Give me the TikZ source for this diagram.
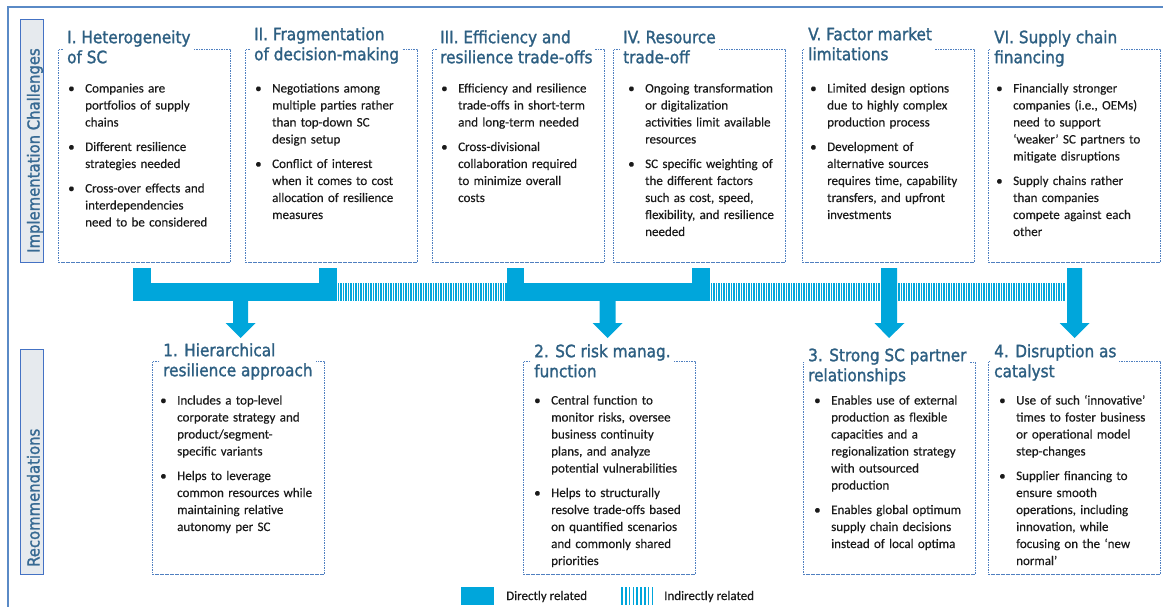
\documentclass[tikz,border=0pt]{standalone}
\usepackage{fontspec}
\setmainfont[FakeBold=0.35]{Carlito}
\newfontfamily\titlefont[FakeBold=1.4]{DejaVu Sans Condensed}
\usetikzlibrary{arrows.meta}
\definecolor{titleblue}{HTML}{2D5F82}
\definecolor{sideblue}{HTML}{376A93}
\definecolor{bandblue}{HTML}{00A6DB}
\definecolor{dashblue}{HTML}{4F7FC0}
\definecolor{frameblue}{HTML}{5A8AC6}
\definecolor{sideborder}{HTML}{4472C4}
\definecolor{sidefill}{HTML}{E6EAEE}
\definecolor{bodytext}{HTML}{1A1A1A}
\newcommand\bitems{\setlength\parskip{7.5pt}}
\newcommand\bitem[1]{\noindent\hangindent=17pt\hangafter=1\makebox[17pt][l]{\textbullet}#1\par}
\begin{document}
\begin{tikzpicture}[x=1pt,y=-1pt,
  dbox/.style={draw=dashblue, line width=0.8pt, dash pattern=on 1.6pt off 0.9pt,
    anchor=north west, inner sep=0pt, minimum width=172pt, minimum height=213pt},
  ttl/.style={anchor=north west, fill=white, inner xsep=3pt, inner ysep=1pt,
    align=left, font=\titlefont\fontsize{17}{20}\selectfont, text=titleblue},
  body/.style={anchor=base west, inner sep=0pt, text width=175pt,
    font=\fontsize{13}{17}\selectfont, text=bodytext},
  sidebox/.style={draw=sideborder, line width=1.2pt, fill=sidefill, anchor=north west,
    inner sep=0pt, minimum width=23pt},
  sidetext/.style={rotate=90, anchor=base west, inner sep=0pt,
    font=\titlefont\fontsize{16.5}{19}\selectfont, text=sideblue},
  direct/.style={fill=bandblue},
  hatch/.style={draw=bandblue, line width=1.5pt},
  legtext/.style={anchor=base west, inner sep=0pt, font=\fontsize{13}{16}\selectfont, text=bodytext}
]
\useasboundingbox (0,0) rectangle (1163,607);
% outer frame
\draw[frameblue, line width=2pt] (8,608) -- (8,7) -- (1164,7);
% side labels
\node[sidebox, minimum height=243pt] (sideA) at (20,19) {};
\node[sidetext] (sideAt) at (39.5,253) {Implementation Challenges};
\node[sidebox, minimum height=225pt] (sideB) at (19.5,349) {};
\node[sidetext] (sideBt) at (39.5,567) {Recommendations};

% top boxes
\node[dbox] (bI) at (58,49) {};
\node[dbox] (bII) at (245,49) {};
\node[dbox] (bIII) at (432,49) {};
\node[dbox] (bIV) at (613,49) {};
\node[dbox] (bV) at (802,49) {};
\node[dbox] (bVI) at (988,49) {};
% bottom boxes
\node[dbox] (r1) at (152,361) {};
\node[dbox] (r2) at (523,361) {};
\node[dbox, minimum height=212pt] (r3) at (803,362) {};
\node[dbox] (r4) at (988,361) {};

% titles
\node[ttl] (tI) at (64,28) {\rule{0pt}{14pt}I. Heterogeneity\\of SC};
\node[ttl] (tII) at (251,25) {\rule{0pt}{14pt}II. Fragmentation\\of decision-making};
\node[ttl] (tIII) at (437,28) {\rule{0pt}{14pt}III. Efficiency and\\resilience trade-offs};
\node[ttl] (tIV) at (620,28) {\rule{0pt}{14pt}IV. Resource\\trade-off};
\node[ttl] (tV) at (805,25) {\rule{0pt}{14pt}V. Factor market\\limitations};
\node[ttl] (tVI) at (991,28) {\rule{0pt}{14pt}VI. Supply chain\\financing};
\node[ttl] (t1) at (160,341) {\rule{0pt}{14pt}1. Hierarchical\\resilience approach};
\node[ttl] (t2) at (531,342) {\rule{0pt}{14pt}2. SC risk manag.\\function};
\node[ttl] (t3) at (805,346) {\rule{0pt}{14pt}3. Strong SC partner\\relationships};
\node[ttl] (t4) at (991,342) {\rule{0pt}{14pt}4. Disruption as\\catalyst};

% body texts
\node[body] (xI) at (68,92.5) {\bitems
\bitem{Companies are\newline portfolios of supply\newline chains}
\bitem{Different resilience\newline strategies needed}
\bitem{Cross-over effects and\newline interdependencies\newline need to be considered}};
\node[body] (xII) at (255,92.5) {\bitems
\bitem{Negotiations among\newline multiple parties rather\newline than top-down SC\newline design setup}
\bitem{Conflict of interest\newline when it comes to cost\newline allocation of resilience\newline measures}};
\node[body] (xIII) at (441,92.5) {\bitems
\bitem{Efficiency and resilience\newline trade-offs in short-term\newline and long-term needed}
\bitem{Cross-divisional\newline collaboration required\newline to minimize overall\newline costs}};
\node[body] (xIV) at (628,92.5) {\bitems
\bitem{Ongoing transformation\newline or digitalization\newline activities limit available\newline resources}
\bitem{SC specific weighting of\newline the different factors\newline such as cost, speed,\newline flexibility, and resilience\newline needed}};
\node[body] (xV) at (810,92.5) {\bitems
\bitem{Limited design options\newline due to highly complex\newline production process}
\bitem{Development of\newline alternative sources\newline requires time, capability\newline transfers, and upfront\newline investments}};
\node[body] (xVI) at (996,92.5) {\bitems
\bitem{Financially stronger\newline companies (i.e., OEMs)\newline need to support\newline ‘weaker’ SC partners to\newline mitigate disruptions}
\bitem{Supply chains rather\newline than companies\newline compete against each\newline other}};
\node[body] (x1) at (160,404.5) {\bitems
\bitem{Includes a top-level\newline corporate strategy and\newline product/segment-\newline specific variants}
\bitem{Helps to leverage\newline common resources while\newline maintaining relative\newline autonomy per SC}};
\node[body] (x2) at (534,404.5) {\bitems
\bitem{Central function to\newline monitor risks, oversee\newline business continuity\newline plans, and analyze\newline potential vulnerabilities}
\bitem{Helps to structurally\newline resolve trade-offs based\newline on quantified scenarios\newline and commonly shared\newline priorities}};
\node[body] (x3) at (814,404.5) {\bitems
\bitem{Enables use of external\newline production as flexible\newline capacities and a\newline regionalization strategy\newline with outsourced\newline production}
\bitem{Enables global optimum\newline supply chain decisions\newline instead of local optima}};
\node[body] (x4) at (999,404.5) {\bitems
\bitem{Use of such ‘innovative’\newline times to foster business\newline or operational model\newline step-changes}
\bitem{Supplier financing to\newline ensure smooth\newline operations, including\newline innovation, while\newline focusing on the ‘new\newline normal’}};

% indirect (hatched) bands
\foreach \x in {338.25,340.75,...,506} \draw[hatch] (\x,283) -- (\x,301);
\foreach \x in {711.25,713.75,...,1066} \draw[hatch] (\x,283) -- (\x,301);

% direct connectors: group I+II -> 1
\fill[direct] (133,268) rectangle (151,301);
\fill[direct] (133,283) rectangle (337,301);
\fill[direct] (319,268) rectangle (337,301);
\fill[direct] (233,300) -- (248,300) -- (248,323) -- (255.5,323) -- (240.5,338)
  -- (225.5,323) -- (233,323) -- cycle;
% group III+IV -> 2
\fill[direct] (507,268) rectangle (524,301);
\fill[direct] (507,283) rectangle (710,301);
\fill[direct] (692,268) rectangle (710,301);
\fill[direct] (599.5,300) -- (615.5,300) -- (615.5,323) -- (622.5,323) -- (607.5,338)
  -- (592.5,323) -- (599.5,323) -- cycle;
% V -> 3
\fill[direct] (881,268) -- (897,268) -- (897,323) -- (904.5,323) -- (889,338)
  -- (874.5,323) -- (881,323) -- cycle;
% VI -> 4
\fill[direct] (1067,268) -- (1082,268) -- (1082,323) -- (1089.5,323) -- (1074.5,338)
  -- (1059.5,323) -- (1067,323) -- cycle;

% legend
\fill[direct] (461,587) rectangle (494,605);
\node[legtext] (l1) at (506,600) {Directly related};
\foreach \x in {622,625.8,...,656} \draw[hatch] (\x,587) -- (\x,605);
\node[legtext] (l2) at (664,600) {Indirectly related};
\end{tikzpicture}
\end{document}
